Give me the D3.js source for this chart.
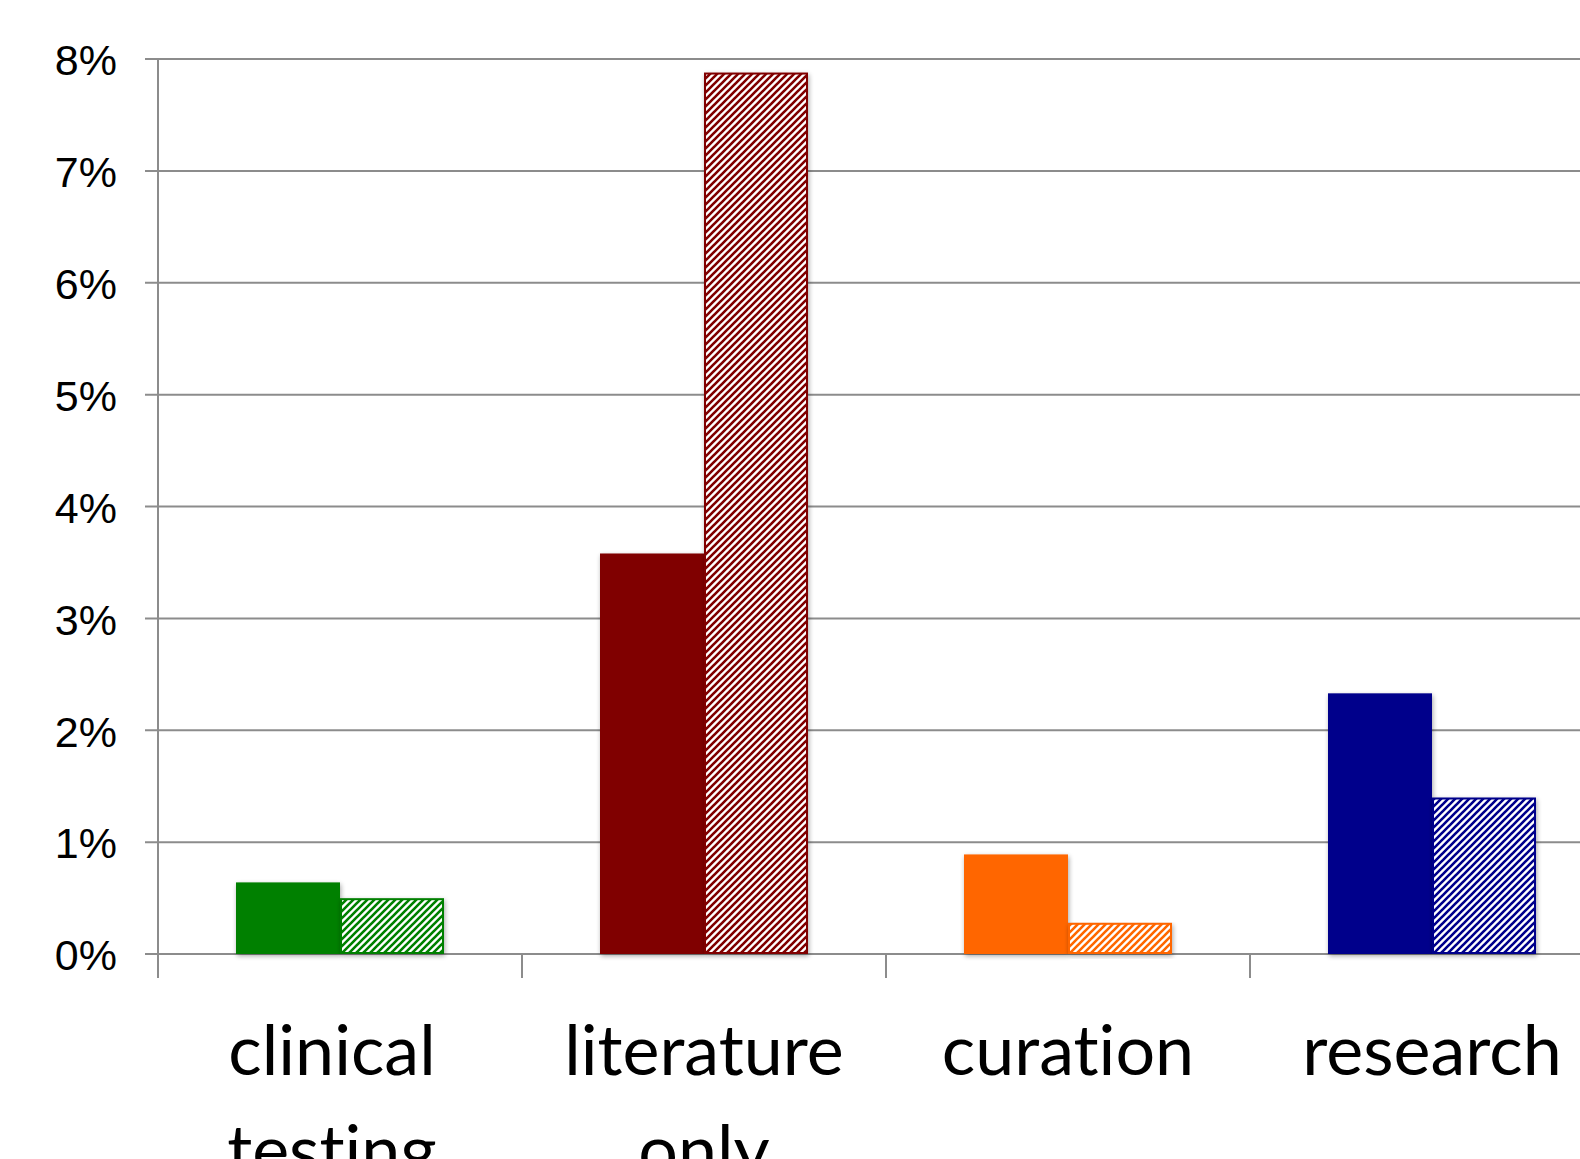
<!DOCTYPE html>
<html>
<head>
<meta charset="utf-8">
<script src="https://cdn.jsdelivr.net/npm/d3@7"></script>
<style>
  html, body { margin: 0; padding: 0; background: #fff; overflow: hidden; }
  svg { display: block; }
</style>
</head>
<body>
<div id="chart"></div>
<script>
// categories (each label may wrap to two lines)
const categories = ["clinical testing", "literature only", "curation", "research"];
const categoryLines = [["clinical", "testing"], ["literature", "only"], ["curation"], ["research"]];
const colors = ["#008000", "#800000", "#ff6600", "#00008b"];

// two series per category: solid and hatched (percent)
const solidValues = [0.64, 3.58, 0.89, 2.33];
const hatchValues = [0.49, 7.87, 0.27, 1.39];

const yTicks = [0, 1, 2, 3, 4, 5, 6, 7, 8];

const W = 1580, H = 1159;
const svg = d3.select("#chart").append("svg")
  .attr("width", W)
  .attr("height", H);

const defs = svg.append("defs");

// soft shadow like the original
const shadow = defs.append("filter")
  .attr("id", "shadow")
  .attr("x", "-10%").attr("y", "-10%")
  .attr("width", "130%").attr("height", "130%");
shadow.append("feGaussianBlur").attr("in", "SourceAlpha").attr("stdDeviation", 2.5);
shadow.append("feOffset").attr("dx", 1).attr("dy", 2).attr("result", "blur");
shadow.append("feComponentTransfer").append("feFuncA").attr("type", "linear").attr("slope", 0.35);
const merge = shadow.append("feMerge");
merge.append("feMergeNode");
merge.append("feMergeNode").attr("in", "SourceGraphic");

// hatch pattern per colour
colors.forEach((c, i) => {
  const p = defs.append("pattern")
    .attr("id", "hatch" + i)
    .attr("patternUnits", "userSpaceOnUse")
    .attr("width", 7).attr("height", 7);
  p.append("rect").attr("width", 7).attr("height", 7).attr("fill", "#fff");
  p.append("path")
    .attr("d", "M-1,1 l2,-2 M0,7 l7,-7 M6,8 l2,-2")
    .attr("stroke", c)
    .attr("stroke-width", 2.6);
});

const axisX = 158;
const bandW = 364;

const x = d3.scaleBand()
  .domain(categories)
  .range([axisX, axisX + bandW * categories.length])
  .paddingInner(0)
  .paddingOuter(0);

const y = d3.scaleLinear()
  .domain([0, 8])
  .range([954, 59]);

const gray = "#8c8c8c";

// gridlines
svg.append("g")
  .selectAll("line")
  .data(yTicks)
  .join("line")
  .attr("x1", axisX - 13)
  .attr("x2", W)
  .attr("y1", d => y(d))
  .attr("y2", d => y(d))
  .attr("stroke", gray)
  .attr("stroke-width", 2);

// y axis line
svg.append("line")
  .attr("x1", axisX).attr("x2", axisX)
  .attr("y1", y(8)).attr("y2", y(0) + 24)
  .attr("stroke", gray).attr("stroke-width", 2);

// category ticks
svg.append("g")
  .selectAll("line")
  .data(categories.slice(1))
  .join("line")
  .attr("x1", d => x(d)).attr("x2", d => x(d))
  .attr("y1", y(0)).attr("y2", y(0) + 24)
  .attr("stroke", gray).attr("stroke-width", 2);

// y tick labels
svg.append("g")
  .selectAll("text")
  .data(yTicks)
  .join("text")
  .attr("x", 117)
  .attr("y", d => y(d))
  .attr("dy", "0.38em")
  .attr("text-anchor", "end")
  .attr("font-family", "'Liberation Sans', Arial, sans-serif")
  .attr("font-size", 43)
  .attr("fill", "#000")
  .text(d => d + "%");

// bars
const barW = 104;
const groupOff = (bandW - barW * 2) / 2;

const bars = svg.append("g");
categories.forEach((cat, i) => {
  const x0 = x(cat) + groupOff;
  bars.append("rect")
    .attr("x", x0)
    .attr("y", y(solidValues[i]))
    .attr("width", barW)
    .attr("height", y(0) - y(solidValues[i]))
    .attr("fill", colors[i])
    .attr("filter", "url(#shadow)");
  bars.append("rect")
    .attr("x", x0 + barW + 1)
    .attr("y", y(hatchValues[i]))
    .attr("width", barW - 2)
    .attr("height", y(0) - y(hatchValues[i]) - 1)
    .attr("fill", `url(#hatch${i})`)
    .attr("stroke", colors[i])
    .attr("stroke-width", 2)
    .attr("filter", "url(#shadow)");
});

// category labels (second line runs off the bottom edge, as in the original)
const labels = svg.append("g")
  .selectAll("text")
  .data(categories)
  .join("text")
  .attr("x", d => x(d) + x.bandwidth() / 2)
  .attr("y", 1075)
  .attr("text-anchor", "middle")
  .attr("font-family", "Lato, 'Open Sans', sans-serif")
  .attr("font-size", 70)
  .style("font-variant-ligatures", "none")
  .attr("fill", "#000");

labels.each(function (d, i) {
  const t = d3.select(this);
  categoryLines[i].forEach((line, j) => {
    t.append("tspan")
      .attr("x", x(d) + x.bandwidth() / 2 - (i === 0 ? 8 : 0))
      .attr("dy", j === 0 ? 0 : 100)
      .text(line);
  });
});
</script>
</body>
</html>
